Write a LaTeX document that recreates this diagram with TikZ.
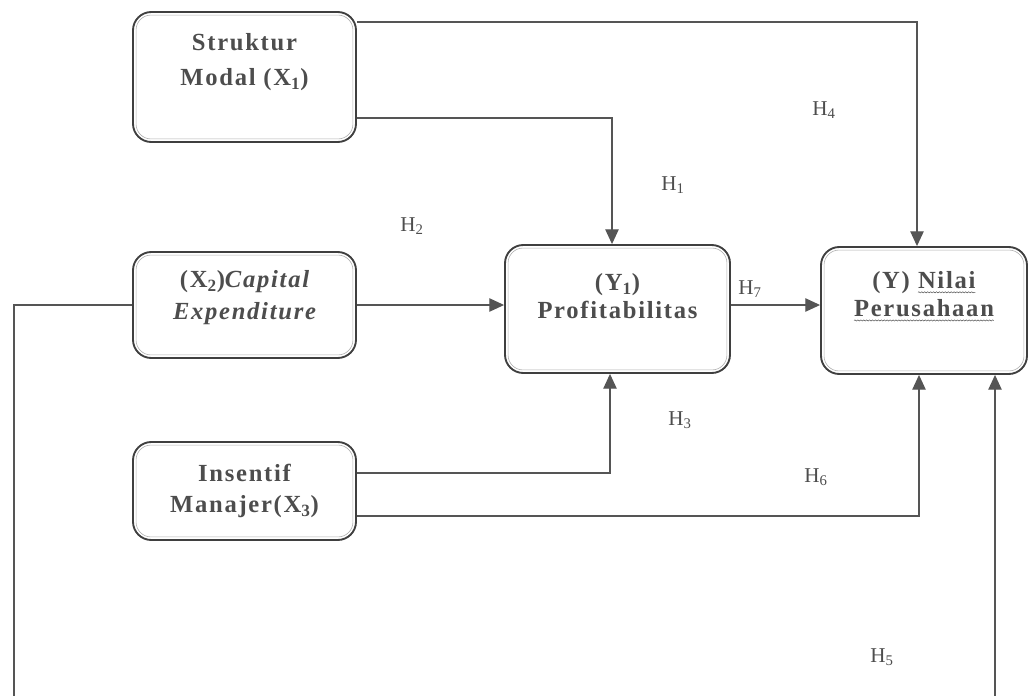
\documentclass[tikz,border=0pt]{standalone}
\usepackage{fontspec}
\setmainfont{Liberation Serif}
\newfontfamily\spacedserif[LetterSpace=7]{Liberation Serif}
\usetikzlibrary{arrows.meta,calc,decorations.pathmorphing}
\definecolor{txt}{HTML}{4D4D4D}
\definecolor{linec}{HTML}{555555}
\definecolor{boxc}{HTML}{3F3F3F}
\definecolor{shad}{HTML}{B0B0B0}
\newcommand\squigword[1]{\tikz[baseline=(sqw.base),x=1cm,y=1cm]{\node[inner sep=0pt,outer sep=0pt] (sqw) {#1};
  \draw[draw=txt, line width=0.4pt, decorate, decoration={snake, amplitude=0.5pt, segment length=2.5pt}] ([yshift=-3pt]sqw.base west) -- ([yshift=-3pt]sqw.base east);}}
\tikzset{
  box/.style={draw=boxc, line width=1.6pt, rounded corners=0.55cm, fill=white, inner sep=0pt},
  innerline/.style={draw=shad, line width=0.5pt, rounded corners=0.45cm},
  boxtext/.style={text=txt, font=\spacedserif\bfseries\fontsize{21}{27}\selectfont, align=center, inner sep=0pt},
  hlab/.style={text=txt, font=\fontsize{18}{20}\selectfont, inner sep=0pt},
  conn/.style={draw=linec, line width=1pt},
  arr/.style={conn, -{Triangle[length=0.44cm,width=0.4cm]}},
}
\begin{document}
\begin{tikzpicture}[x=0.03cm,y=-0.03cm]
\clip (0,0) rectangle (1033,695);
\fill[white] (0,0) rectangle (1033,695);
% boxes
\node[box, minimum width=6.69cm, minimum height=3.9cm] (x1) at (244.5,77) {};
\node[box, minimum width=6.69cm, minimum height=3.18cm] (x2) at (244.5,305) {};
\node[box, minimum width=6.69cm, minimum height=2.94cm] (x3) at (244.5,491) {};
\node[box, minimum width=6.75cm, minimum height=3.84cm] (y1) at (617.5,309) {};
\node[box, minimum width=6.18cm, minimum height=3.81cm] (y) at (924,310.5) {};
\foreach \b in {x1,x2,x3,y1,y}{
  \draw[innerline] ($(\b.south west)+(4,-4)$) rectangle ($(\b.north east)+(-4,4)$);
}
% box texts
\node[boxtext, font=\spacedserif\bfseries\fontsize{21}{30}\selectfont] (x1t) at ($(x1)+(0,-14.5)$) {Struktur\\Modal (X\textsubscript{1})};
\node[boxtext, font=\spacedserif\bfseries\itshape\fontsize{21}{27}\selectfont] (x2t) at ($(x2)+(0,-7.5)$) {\upshape(X\textsubscript{2})\itshape Capital\\Expenditure};
\node[boxtext] (x3t) at ($(x3)+(0,0)$) {Insentif\\Manajer(X\textsubscript{3})};
\node[boxtext, font=\spacedserif\bfseries\fontsize{21}{24}\selectfont] (y1t) at ($(y1)+(0,-13)$) {(Y\textsubscript{1})\\Profitabilitas};
\node[boxtext, font=\spacedserif\bfseries\fontsize{21}{24}\selectfont] (yt) at ($(y)+(0,-14)$) {(Y) \squigword{Nilai}\\\squigword{Perusahaan}};
% connectors
\draw[arr] ($(x1.east)+(0,-55)$) -| ($(y.north)+(-7,0)$);
\draw[arr] ($(x1.east)+(0,41)$) -| ($(y1.north)+(-5.5,0)$);
\draw[arr] (x2.east) -- (x2.east -| y1.west);
\draw[arr] ($(y1.east)+(0,-4)$) -- ($(y1.east -| y.west)+(0,-4)$);
\draw[arr] ($(x3.east)+(0,-18)$) -| ($(y1.south)+(-7.5,0)$);
\draw[arr] ($(x3.east)+(0,25)$) -| ($(y.south)+(-5,0)$);
\coordinate (bl) at (14,720);
\draw[arr] (x2.west) -| (bl) -| ($(y.south)+(71,0)$);
% labels
\node[hlab] (h4) at (824,110) {H\textsubscript{4}};
\node[hlab] (h1) at (673,185) {H\textsubscript{1}};
\node[hlab] (h2) at (412,226) {H\textsubscript{2}};
\node[hlab] (h7) at (750,289) {H\textsubscript{7}};
\node[hlab] (h3) at (680,420) {H\textsubscript{3}};
\node[hlab] (h6) at (816,477) {H\textsubscript{6}};
\node[hlab] (h5) at (882,657) {H\textsubscript{5}};
\end{tikzpicture}
\end{document}
